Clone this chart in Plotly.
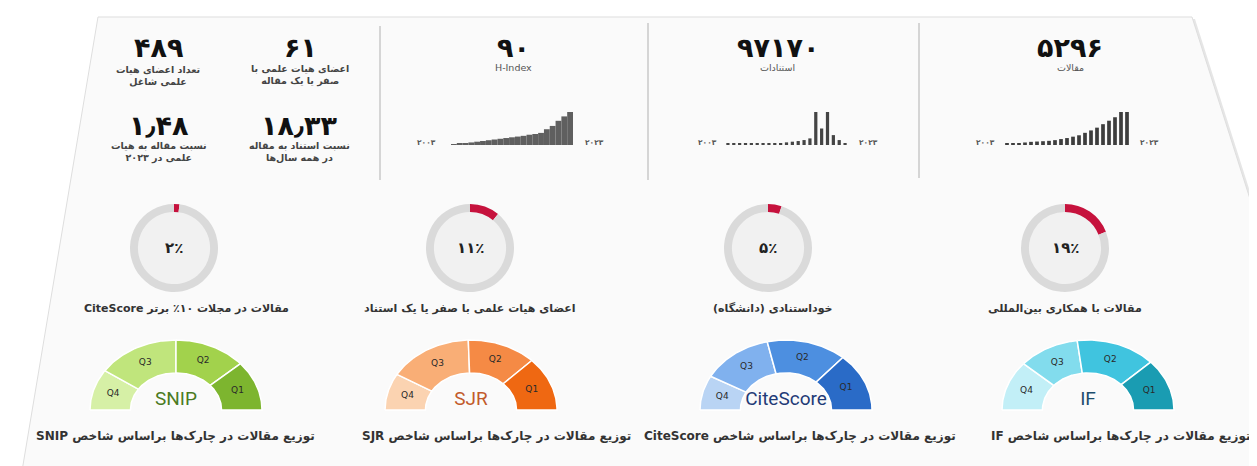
import numpy as np
import plotly.graph_objects as go

W, H = 1257, 466

# ---------------- data ----------------
years = [2003, 2004, 2005, 2006, 2007, 2008, 2009, 2010, 2011, 2012, 2013,
         2014, 2015, 2016, 2017, 2018, 2019, 2020, 2021, 2022, 2023]
year_end_labels = ["۲۰۰۳", "۲۰۲۳"]

hindex_by_year = [2, 3, 5, 7, 9, 11, 13, 15, 17, 19, 21, 23, 25, 28, 30, 33, 43, 52, 66, 78, 90]
citations_by_year = [1100, 1150, 1120, 1180, 1160, 1200, 1190, 1230, 1250, 1400, 1870,
                     2340, 2800, 3500, 4670, 23360, 11680, 23360, 7010, 3500, 1170]
articles_by_year = [20, 20, 20, 40, 50, 55, 60, 66, 77, 94, 110, 132, 154, 193, 231,
                    275, 330, 385, 440, 523, 523]

kpi_values = ["۹۰", "۹۷۱۷۰", "۵۲۹۶"]
kpi_titles = ["H-Index", "استنادات", "مقالات"]

stat_values = ["۴۸۹", "۶۱", "۱٫۴۸", "۱۸٫۳۳"]
stat_labels = ["تعداد اعضای هیات<br>علمی شاغل",
               "اعضای هیات علمی با<br>صفر یا یک مقاله",
               "نسبت مقاله به هیات<br>علمی در ۲۰۲۳",
               "نسبت استناد به مقاله<br>در همه سال‌ها"]

donut_pcts = [2, 11, 5, 19]
donut_texts = ["۲٪", "۱۱٪", "۵٪", "۱۹٪"]
donut_labels = ["مقالات در مجلات ۱۰٪ برتر CiteScore",
                "اعضای هیات علمی با صفر یا یک استناد",
                "خوداستنادی (دانشگاه)",
                "مقالات با همکاری بین‌المللی"]

gauge_names = ["SNIP", "SJR", "CiteScore", "IF"]
quartile_names = ["Q4", "Q3", "Q2", "Q1"]
snip_quartiles = [19, 31, 27, 23]
sjr_quartiles = [17, 32, 26, 25]
citescore_quartiles = [16, 27, 30, 27]
if_quartiles = [23, 23, 30, 24]
gauge_captions = ["توزیع مقالات در چارک‌ها براساس شاخص SNIP",
                  "توزیع مقالات در چارک‌ها براساس شاخص SJR",
                  "توزیع مقالات در چارک‌ها براساس شاخص CiteScore",
                  "توزیع مقالات در چارک‌ها براساس شاخص IF"]

# ---------------- styling ----------------
FA = "DejaVu Sans"
RLE, PDF = "\u202B", "\u202C"
gauge_colors = [
    ["#d6f0a6", "#c0e57c", "#a2d24c", "#7db52f"],
    ["#fbd3b1", "#f9ae76", "#f58a45", "#ef6812"],
    ["#b9d4f4", "#80b1ee", "#4d8fe0", "#2a6bc7"],
    ["#c2eff7", "#82dced", "#40c4df", "#1a9cb2"],
]
gauge_text_colors = ["#4b7a1f", "#c25a2b", "#1f3b77", "#1d4d6c"]


def px_x(p):
    return p / W


def px_y(p):
    return 1 - p / H


fig = go.Figure()
axes_layout = {}
axis_counter = [0]


def new_axes(x0, x1, ytop, ybot, xr, yr):
    axis_counter[0] += 1
    i = axis_counter[0]
    s = "" if i == 1 else str(i)
    axes_layout["xaxis" + s] = dict(domain=[px_x(x0), px_x(x1)], range=xr, visible=False,
                                    fixedrange=True, anchor="y" + s)
    axes_layout["yaxis" + s] = dict(domain=[px_y(ybot), px_y(ytop)], range=yr, visible=False,
                                    fixedrange=True, anchor="x" + s)
    return "x" + s, "y" + s


shapes = []
annotations = []


def text(x, y, t, size, color="#333", bold=False, family=FA, rtl=False):
    if rtl:
        t = RLE + t + PDF
    if bold:
        t = "<b>" + t + "</b>"
    annotations.append(dict(x=px_x(x), y=px_y(y), xref="paper", yref="paper", text=t,
                            showarrow=False, xanchor="center", yanchor="middle",
                            font=dict(size=size, color=color, family=family)))


# ---------------- card background ----------------
card = [(90, 9), (1184, 9), (1257, 238), (1257, 463), (14, 463)]
shadow = "M " + " L ".join("%f,%f" % (px_x(x + 3), px_y(y + 2)) for x, y in card) + " Z"
shapes.append(dict(type="path", xref="paper", yref="paper", layer="below", path=shadow,
                   fillcolor="#e6e6e6", line=dict(width=0)))
path = "M " + " L ".join("%f,%f" % (px_x(x), px_y(y)) for x, y in card) + " Z"
shapes.append(dict(type="path", xref="paper", yref="paper", layer="below", path=path,
                   fillcolor="#fafafa", line=dict(color="#dedede", width=1)))

# dividers
for xd, y0, y1 in [(372, 18, 172), (640, 15, 172), (911, 15, 170)]:
    shapes.append(dict(type="line", xref="paper", yref="paper", x0=px_x(xd), x1=px_x(xd),
                       y0=px_y(y0), y1=px_y(y1), line=dict(color="#c9c9c9", width=1.5)))

# ---------------- top-left stats ----------------
stat_pos = [(150, 40), (292, 40), (151, 117), (291, 117)]
for (cx, cy), v, lab in zip(stat_pos, stat_values, stat_labels):
    text(cx, cy, v, 27, "#111", bold=True)
    text(cx, cy + 27, lab, 9.5, "#444", bold=True, rtl=True)

# ---------------- KPI columns with sparklines ----------------
kpi_centers = [505, 770, 1062]
for cx, v, t in zip(kpi_centers, kpi_values, kpi_titles):
    text(cx, 40, v, 27, "#111", bold=True)
    text(cx, 60, t, 9.5, "#555", rtl=(t != "H-Index"))

spark_defs = [
    (hindex_by_year, 443, 565, 1.0, "#5f5f5f", 418, 586),
    (citations_by_year, 717, 840, 0.55, "#444444", 699, 860),
    (articles_by_year, 996, 1122, 0.62, "#3d3d3d", 977, 1141),
]
for vals, x0, x1, bw, col, lx, rx in spark_defs:
    xa, ya = new_axes(x0, x1, 104, 137, [years[0] - 0.5, years[-1] + 0.5], [0, max(vals)])
    fig.add_trace(go.Bar(x=years, y=vals, width=bw, marker=dict(color=col, line=dict(width=0)),
                         xaxis=xa, yaxis=ya, showlegend=False, hoverinfo="skip"))
    text(lx, 134, year_end_labels[0], 7.5, "#555", bold=True)
    text(rx, 134, year_end_labels[1], 7.5, "#555", bold=True)

# ---------------- donuts ----------------
donut_centers = [166, 462, 760, 1057]
label_centers = [178, 462, 765, 1057]
R = 44
for cx, lcx, pct, ptxt, lab in zip(donut_centers, label_centers, donut_pcts, donut_texts, donut_labels):
    shapes.append(dict(type="circle", xref="paper", yref="paper", layer="below",
                       x0=px_x(cx - R + 6), x1=px_x(cx + R - 6),
                       y0=px_y(240 + R - 6), y1=px_y(240 - R + 6),
                       fillcolor="#f1f1f1", line=dict(width=0)))
    fig.add_trace(go.Pie(values=[pct, 100 - pct], hole=0.82, sort=False, direction="clockwise",
                         rotation=0, marker=dict(colors=["#c6123d", "#dadada"], line=dict(width=0)),
                         textinfo="none", hoverinfo="skip", showlegend=False,
                         domain=dict(x=[px_x(cx - R), px_x(cx + R)],
                                     y=[px_y(240 + R), px_y(240 - R)])))
    text(cx, 240, ptxt, 15, "#222", bold=True)
    text(lcx, 300, lab, 11, "#333", bold=True, rtl=True)

# ---------------- quartile gauges ----------------
gauge_centers = [168, 463, 778, 1080]
caption_centers = [167, 488, 792, 1112]
GA, GB, BASE = 86, 70, 402
INNER = 0.53
PAD = 0.03
all_q = [snip_quartiles, sjr_quartiles, citescore_quartiles, if_quartiles]
for gi, (cx, qs, name, cols, tcol, cap, ccx) in enumerate(zip(
        gauge_centers, all_q, gauge_names, gauge_colors, gauge_text_colors,
        gauge_captions, caption_centers)):
    xa, ya = new_axes(cx - GA * (1 + PAD), cx + GA * (1 + PAD),
                      BASE - GB * (1 + PAD), BASE + GB * PAD,
                      [-1 - PAD, 1 + PAD], [-PAD, 1 + PAD])
    total = float(sum(qs))
    cum = 0.0
    for q, qn, c in zip(qs, quartile_names, cols):
        a0 = np.pi * (1 - cum / total)
        cum += q
        a1 = np.pi * (1 - cum / total)
        th = np.linspace(a0, a1, 50)
        xs = np.concatenate([np.cos(th), INNER * np.cos(th[::-1])])
        ys = np.concatenate([np.sin(th), INNER * np.sin(th[::-1])])
        fig.add_trace(go.Scatter(x=np.append(xs, xs[0]), y=np.append(ys, ys[0]), mode="lines",
                                 fill="toself", fillcolor=c, line=dict(color="#ffffff", width=1.5),
                                 xaxis=xa, yaxis=ya, showlegend=False, hoverinfo="skip"))
        am = (a0 + a1) / 2
        rm = (1 + INNER) / 2
        fig.add_trace(go.Scatter(x=[rm * np.cos(am)], y=[rm * np.sin(am)], mode="text", text=[qn],
                                 textfont=dict(size=9, color="#2a2a2a", family="DejaVu Sans"),
                                 xaxis=xa, yaxis=ya, showlegend=False, hoverinfo="skip"))
    fig.add_trace(go.Scatter(x=[0], y=[0.14], mode="text", text=[name],
                             textfont=dict(size=19, color=tcol, family="Roboto"),
                             xaxis=xa, yaxis=ya, showlegend=False, hoverinfo="skip"))
    text(ccx, 428, cap, 12, "#333", bold=True, rtl=True)

fig.update_layout(
    width=W, height=H, margin=dict(l=0, r=0, t=0, b=0),
    paper_bgcolor="#ffffff", plot_bgcolor="rgba(0,0,0,0)",
    shapes=shapes, annotations=annotations, showlegend=False,
    **axes_layout,
)

fig.write_html("out.html")
